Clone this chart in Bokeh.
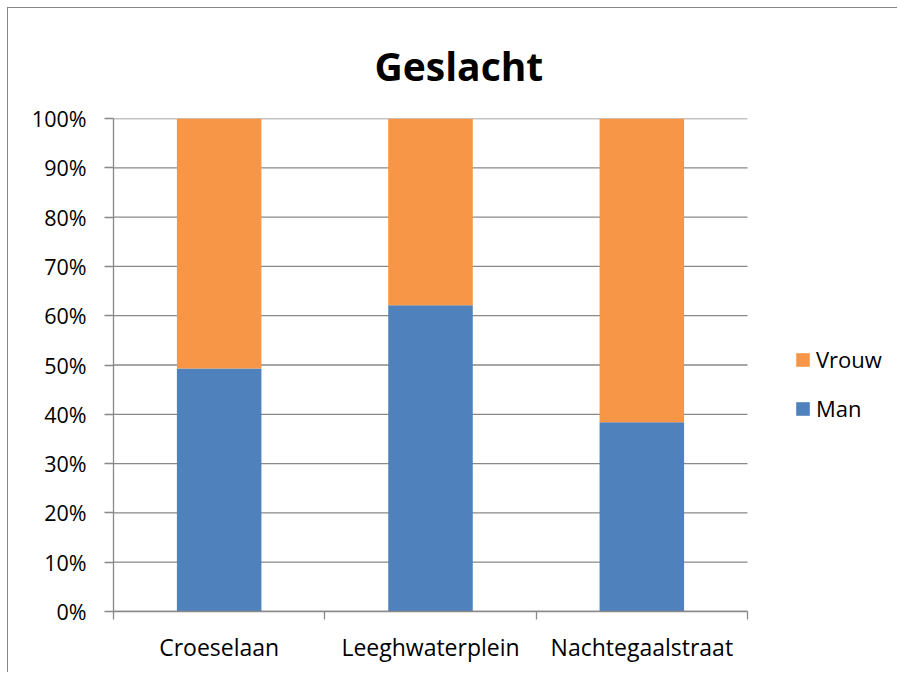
from bokeh.plotting import figure
from bokeh.models import (ColumnDataSource, FixedTicker, NumeralTickFormatter,
                          Range1d, Legend, LegendItem)
from bokeh.embed import file_html
from bokeh.resources import INLINE

# ---- data ----
categories = ["Croeselaan", "Leeghwaterplein", "Nachtegaalstraat"]
man = [0.493, 0.621, 0.384]
vrouw = [0.507, 0.379, 0.616]
y_ticks = [0.0, 0.1, 0.2, 0.3, 0.4, 0.5, 0.6, 0.7, 0.8, 0.9, 1.0]

BLUE = "#4F81BD"
ORANGE = "#F79646"
GRAY = "#898989"
FONT = "Open Sans"

n = len(categories)
xs = [i + 0.5 for i in range(n)]
bounds = [float(i) for i in range(n + 1)]

# frame spans 785 px; the category area takes 634 px of it, the rest holds the legend
x_end = n * 785 / 634

src = ColumnDataSource(data=dict(x=xs, Man=man, Vrouw=vrouw))

p = figure(width=890, height=665, output_backend="svg", toolbar_location=None,
           x_range=Range1d(0, x_end), y_range=Range1d(0, 1),
           min_border_left=105, min_border_right=0,
           min_border_top=110, min_border_bottom=62,
           title="Geslacht")
p.styles = {"margin-left": "7px", "margin-top": "7px",
            "border-left": "1px solid #868686", "border-top": "1px solid #868686"}

p.title.text_font = FONT
p.title.text_font_size = "39px"
p.title.text_font_style = "bold"
p.title.text_color = "#000000"
p.title.align = "left"
p.title.offset = 261
p.title.standoff = 54

p.outline_line_color = None
p.background_fill_color = "white"
p.border_fill_color = "white"
p.xgrid.grid_line_color = None
p.ygrid.grid_line_color = None

# horizontal gridlines over the category area only
p.segment(x0=[0.0] * len(y_ticks), x1=[float(n)] * len(y_ticks), y0=y_ticks, y1=y_ticks,
          line_color=GRAY, line_width=1.3)

rs = p.vbar_stack(["Man", "Vrouw"], x="x", width=0.4, source=src,
                  color=[BLUE, ORANGE], line_color=None)

# y axis
p.yaxis.ticker = FixedTicker(ticks=y_ticks)
p.yaxis.formatter = NumeralTickFormatter(format="0%")
p.yaxis.axis_line_color = GRAY
p.yaxis.axis_line_width = 1.3
p.yaxis.major_tick_line_color = GRAY
p.yaxis.major_tick_line_width = 1.3
p.yaxis.major_tick_in = 0
p.yaxis.major_tick_out = 9
p.yaxis.minor_tick_line_color = None
p.yaxis.major_label_text_font = FONT
p.yaxis.major_label_text_font_size = "21.5px"
p.yaxis.major_label_text_color = "#000000"
p.yaxis.major_label_standoff = 18

# x axis
p.xaxis.bounds = (0, n)
p.xaxis.ticker = FixedTicker(ticks=xs, minor_ticks=bounds)
p.xaxis.major_label_overrides = {x: c for x, c in zip(xs, categories)}
p.xaxis.axis_line_color = GRAY
p.xaxis.axis_line_width = 1.3
p.xaxis.major_tick_line_color = None
p.xaxis.major_tick_in = 0
p.xaxis.major_tick_out = 0
p.xaxis.minor_tick_line_color = GRAY
p.xaxis.minor_tick_line_width = 1.3
p.xaxis.minor_tick_in = 0
p.xaxis.minor_tick_out = 8
p.xaxis.major_label_text_font = FONT
p.xaxis.major_label_text_font_size = "23px"
p.xaxis.major_label_text_color = "#000000"
p.xaxis.major_label_standoff = 11

legend = Legend(items=[LegendItem(label="Vrouw", renderers=[rs[1]]),
                       LegendItem(label="Man", renderers=[rs[0]])],
                location=(681, 188))
legend.border_line_color = None
legend.background_fill_alpha = 0
legend.padding = 0
legend.margin = 0
legend.spacing = 19
legend.glyph_width = 17
legend.glyph_height = 17
legend.label_standoff = 5
legend.label_text_font = FONT
legend.label_text_font_size = "22px"
legend.label_text_color = "#000000"
p.add_layout(legend, "center")

open("out.html", "w").write(file_html(p, INLINE))
